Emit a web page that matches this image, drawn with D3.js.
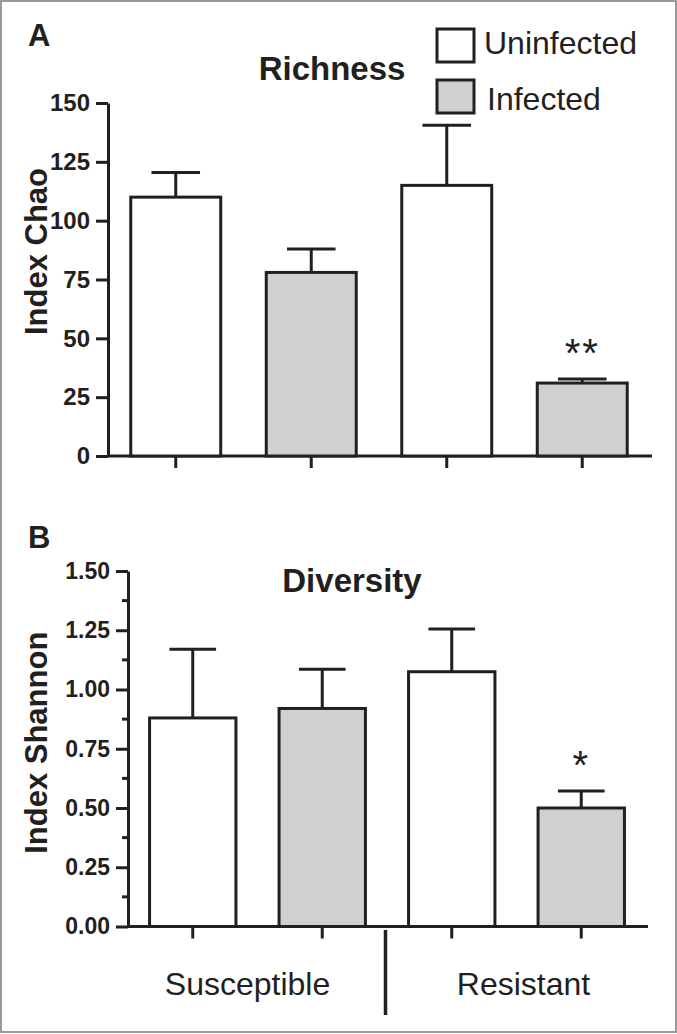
<!DOCTYPE html>
<html>
<head>
<meta charset="utf-8">
<script src="https://cdn.jsdelivr.net/npm/d3@7"></script>
<style>
  html, body { margin: 0; padding: 0; background: #fff; }
  svg { display: block; }
  text { font-family: "Liberation Sans", Arial, Helvetica, sans-serif; fill: #231f20; }
</style>
</head>
<body>
<svg id="chart" width="677" height="1034"></svg>
<script>
// ---- data ----
const categories = ["Susceptible|Uninfected", "Susceptible|Infected", "Resistant|Uninfected", "Resistant|Infected"];
const conditions = ["Uninfected", "Infected"];
const groups = ["Susceptible", "Resistant"];
const chaoMean = [110, 78, 115, 31];
const chaoSem = [10.5, 10, 25.5, 1.7];
const chaoSig = ["", "", "", "**"];
const chaoTicks = [0, 25, 50, 75, 100, 125, 150];
const shannonMean = [0.88, 0.92, 1.075, 0.50];
const shannonSem = [0.29, 0.165, 0.18, 0.072];
const shannonSig = ["", "", "", "*"];
const shannonTicks = [0, 0.25, 0.5, 0.75, 1.0, 1.25, 1.5];
const shannonMinor = [0.125, 0.375, 0.625, 0.875, 1.125, 1.375];

const ink = "#231f20";
const greyFill = "#cfd0d2";
const fills = { Uninfected: "#ffffff", Infected: greyFill };

const svg = d3.select("#chart");

// frame
svg.append("rect").attr("x", 1).attr("y", 1).attr("width", 675).attr("height", 1031)
  .attr("fill", "none").attr("stroke", "#9a9a9a").attr("stroke-width", 2);

function panel(opt) {
  const g = svg.append("g");
  const x = d3.scaleBand().domain(categories).range(opt.xr)
    .paddingInner(opt.pad).paddingOuter(opt.pad / 2);
  const y = d3.scaleLinear().domain([0, opt.ymax]).range(opt.yr);

  // y axis
  const yAxis = d3.axisLeft(y).tickValues(opt.ticks).tickFormat(opt.fmt)
    .tickSize(12).tickSizeOuter(0).tickPadding(6);
  const ya = g.append("g").attr("transform", `translate(${opt.xr[0]},0)`).call(yAxis);
  ya.select(".domain").attr("stroke", ink).attr("stroke-width", 3);
  ya.selectAll(".tick line").attr("stroke", ink).attr("stroke-width", 3);
  ya.selectAll(".tick text").attr("fill", ink).style("font-size", opt.tickFont + "px")
    .style("font-weight", "bold").style("font-family", '"Liberation Sans", Arial, sans-serif');
  if (opt.minor) {
    g.selectAll(".minor").data(opt.minor).join("line")
      .attr("x1", opt.xr[0] - 6).attr("x2", opt.xr[0])
      .attr("y1", d => y(d)).attr("y2", d => y(d))
      .attr("stroke", ink).attr("stroke-width", 3);
  }

  // x axis
  const xAxis = d3.axisBottom(x).tickSize(12).tickSizeOuter(0).tickFormat("");
  const xa = g.append("g").attr("transform", `translate(0,${y(0)})`).call(xAxis);
  xa.select(".domain").attr("stroke", ink).attr("stroke-width", 3)
    .attr("d", `M${opt.xr[0]},0H${opt.xr[1] + 2}`);
  xa.selectAll(".tick line").attr("stroke", ink).attr("stroke-width", 3);

  const bw = x.bandwidth();
  const capW = bw * 0.54;
  // error bars (upper only)
  g.selectAll(".err").data(categories).join("line")
    .attr("x1", d => x(d) + bw / 2).attr("x2", d => x(d) + bw / 2)
    .attr("y1", (d, i) => y(opt.mean[i])).attr("y2", (d, i) => y(opt.mean[i] + opt.sem[i]))
    .attr("stroke", ink).attr("stroke-width", 3);
  g.selectAll(".cap").data(categories).join("line")
    .attr("x1", d => x(d) + bw / 2 - capW / 2).attr("x2", d => x(d) + bw / 2 + capW / 2)
    .attr("y1", (d, i) => y(opt.mean[i] + opt.sem[i])).attr("y2", (d, i) => y(opt.mean[i] + opt.sem[i]))
    .attr("stroke", ink).attr("stroke-width", 3);
  // bars
  g.selectAll(".bar").data(categories).join("rect")
    .attr("x", d => x(d)).attr("width", bw)
    .attr("y", (d, i) => y(opt.mean[i])).attr("height", (d, i) => y(0) - y(opt.mean[i]))
    .attr("fill", d => fills[d.split("|")[1]])
    .attr("stroke", ink).attr("stroke-width", 3);
  // significance
  g.selectAll(".sig").data(categories).join("text")
    .attr("x", d => x(d) + bw / 2)
    .attr("y", (d, i) => y(opt.mean[i] + opt.sem[i]) - 12)
    .attr("text-anchor", "middle").style("font-size", "40px")
    .style("letter-spacing", "2px")
    .text((d, i) => opt.sig[i]);

  // title
  g.append("text").attr("x", opt.titleX).attr("y", opt.titleY)
    .attr("text-anchor", "middle").style("font-size", "33px").style("font-weight", "bold")
    .text(opt.title);
  // panel letter
  g.append("text").attr("x", 28).attr("y", opt.letterY)
    .style("font-size", "31px").style("font-weight", "bold").text(opt.letter);
  // y label
  g.append("text").attr("transform", `translate(47,${(opt.yr[0] + opt.yr[1]) / 2 + opt.ylabShift}) rotate(-90)`)
    .attr("text-anchor", "middle").style("font-size", "31px").style("font-weight", "bold")
    .text(opt.ylabel);
  return { x, y, g };
}

const A = panel({
  xr: [108, 650], yr: [456, 103], pad: 0.336, ymax: 150, ticks: chaoTicks,
  fmt: d3.format("d"), tickFont: 24, mean: chaoMean, sem: chaoSem, sig: chaoSig,
  title: "Richness", titleX: 332, titleY: 80, letter: "A", letterY: 46,
  ylabel: "Index Chao", ylabShift: -28
});

const B = panel({
  xr: [128, 646], yr: [926.5, 571], pad: 0.333, ymax: 1.5, ticks: shannonTicks, minor: shannonMinor,
  fmt: d3.format(".2f"), tickFont: 23, mean: shannonMean, sem: shannonSem, sig: shannonSig,
  title: "Diversity", titleX: 352, titleY: 592, letter: "B", letterY: 548,
  ylabel: "Index Shannon", ylabShift: -6
});

// legend
const leg = svg.append("g");
conditions.forEach((c, i) => {
  leg.append("rect").attr("x", 437).attr("y", 29 + i * 51).attr("width", 37).attr("height", 33)
    .attr("fill", fills[c]).attr("stroke", ink).attr("stroke-width", 3);
  leg.append("text").attr("x", 484 + i * 3).attr("y", 54 + i * 56)
    .style("font-size", "32px").text(c);
});

// group labels and separator (panel B)
const bx = B.x, bwB = B.x.bandwidth();
const centers = categories.map(c => bx(c) + bwB / 2);
const sepX = (centers[1] + centers[2]) / 2 - 1.5;
svg.append("line").attr("x1", sepX).attr("x2", sepX).attr("y1", 930).attr("y2", 1015)
  .attr("stroke", ink).attr("stroke-width", 3.5);
const groupOffsets = [-10, 7];
groups.forEach((gname, i) => {
  const cx = (centers[2 * i] + centers[2 * i + 1]) / 2 + groupOffsets[i];
  svg.append("text").attr("x", cx).attr("y", 995).attr("text-anchor", "middle")
    .style("font-size", "32px").text(gname);
});
</script>
</body>
</html>
